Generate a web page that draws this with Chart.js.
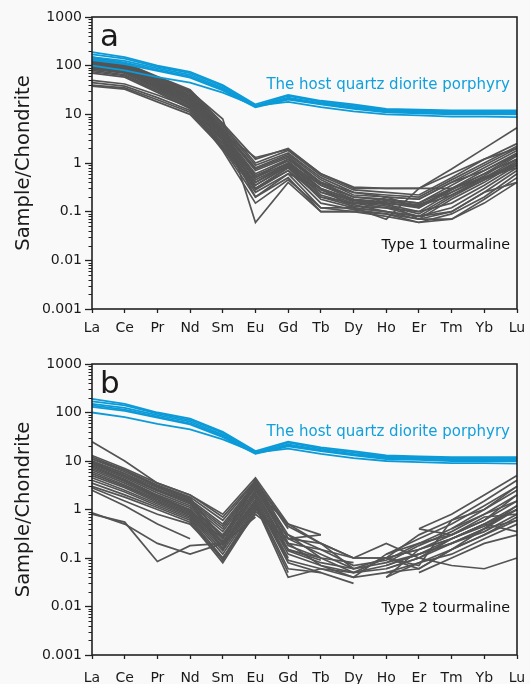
<!DOCTYPE html>
<html>
<head>
<meta charset="utf-8">
<script src="https://cdn.jsdelivr.net/npm/chart.js@4"></script>
<style>
  html, body { margin: 0; padding: 0; background: #f9f9f9; }
  #wrap { position: relative; width: 530px; height: 684px; }
  canvas { position: absolute; left: 0; }
  #ca { top: 0; }
  #cb { top: 342px; }
</style>
</head>
<body>
<div id="wrap">
  <canvas id="ca" width="530" height="342" style="width:530px;height:342px"></canvas>
  <canvas id="cb" width="530" height="342" style="width:530px;height:342px"></canvas>
</div>
<script>
// REE pattern data, chondrite normalised
const elements = ['La', 'Ce', 'Pr', 'Nd', 'Sm', 'Eu', 'Gd', 'Tb', 'Dy', 'Ho', 'Er', 'Tm', 'Yb', 'Lu'];
const yTicks = [0.001, 0.01, 0.1, 1, 10, 100, 1000];
const hostLabel = 'The host quartz diorite porphyry';

const hostSeries = [
  [190, 150, 100, 75, 40, 16, 25, 19, 16, 13, 12.5, 12, 12, 12],
  [170, 140, 95, 70, 38, 15, 24, 18, 15, 12.5, 12, 11.5, 11.5, 11.5],
  [150, 125, 88, 65, 35, 14.5, 22, 17, 14, 12, 11.5, 11, 11, 11],
  [140, 115, 82, 60, 33, 14.5, 21, 16.5, 13.5, 11.5, 11, 10.5, 10.5, 10.5],
  [130, 108, 78, 57, 31, 14, 20, 16, 13, 11, 10.5, 10, 10, 10],
  [100, 80, 58, 45, 28, 15, 18, 14, 11.5, 10, 9.5, 9, 9, 8.8]
];

const type1Series = [
  [150, 115, 60, 32, 6.5, 1.2, 2.0, 0.6, 0.3, 0.3, 0.3, 0.75, 2.0, 5.3],
  [140, 110, 58, 30, 6.0, 1.0, 1.8, 0.55, 0.28, 0.25, 0.22, 0.5, 1.2, 2.5],
  [135, 105, 55, 28, 5.5, 0.9, 1.6, 0.5, 0.25, 0.22, 0.2, 0.45, 1.0, 2.2],
  [130, 100, 52, 27, 5.0, 0.8, 1.5, 0.45, 0.22, 0.2, 0.18, 0.4, 0.9, 2.0],
  [125, 95, 50, 25, 4.8, 0.75, 1.4, 0.4, 0.2, 0.18, 0.15, 0.35, 0.8, 1.8],
  [120, 92, 48, 24, 4.5, 0.7, 1.3, 0.38, 0.2, 0.17, 0.13, 0.3, 0.7, 1.6],
  [115, 90, 46, 23, 4.2, 0.6, 1.2, 0.35, 0.18, 0.15, 0.12, 0.28, 0.6, 1.5],
  [110, 88, 44, 22, 4.0, 0.55, 1.1, 0.3, 0.17, 0.14, 0.1, 0.25, 0.55, 1.4],
  [105, 85, 42, 21, 3.8, 0.5, 1.0, 0.28, 0.16, 0.13, 0.09, 0.22, 0.5, 1.2],
  [100, 82, 40, 20, 3.5, 0.45, 0.95, 0.25, 0.15, 0.12, 0.08, 0.2, 0.45, 1.1],
  [95, 80, 38, 19, 3.2, 0.4, 0.9, 0.22, 0.14, 0.1, 0.07, 0.18, 0.4, 1.0],
  [90, 75, 36, 18, 3.0, 0.35, 0.85, 0.2, 0.13, 0.12, 0.1, 0.15, 0.35, 0.9],
  [88, 72, 35, 17, 2.8, 0.3, 0.8, 0.18, 0.12, 0.1, 0.08, 0.12, 0.3, 0.8],
  [85, 70, 34, 16, 2.5, 0.28, 0.7, 0.15, 0.11, 0.09, 0.07, 0.1, 0.25, 0.7],
  [80, 65, 32, 15, 2.2, 0.25, 0.6, 0.12, 0.1, 0.08, 0.06, 0.09, 0.2, 0.6],
  [75, 62, 30, 14, 2.0, 0.2, 0.5, 0.1, 0.1, 0.09, 0.06, 0.07, 0.18, 0.5],
  [70, 58, 28, 13, 1.8, 0.15, 0.45, 0.12, 0.12, 0.1, 0.08, 0.1, 0.25, 0.4],
  [120, 95, 55, 30, 8.0, 0.06, 0.4, 0.1, 0.1, 0.2, 0.12, 0.3, 0.5, 0.9],
  [50, 42, 25, 14, 3.0, 0.5, 1.2, 0.4, 0.25, 0.2, 0.18, 0.4, 0.7, 1.5],
  [45, 38, 22, 12, 2.5, 0.4, 1.0, 0.35, 0.2, 0.18, 0.15, 0.3, 0.6, 1.2],
  [40, 35, 20, 11, 2.2, 0.35, 0.9, 0.3, 0.18, 0.16, 0.14, 0.25, 0.5, 1.0],
  [38, 33, 18, 10, 2.0, 0.3, 0.8, 0.25, 0.17, 0.15, 0.13, 0.22, 0.45, 0.9],
  [100, 80, 45, 22, 4.0, 1.3, 1.9, 0.6, 0.32, 0.3, 0.3, 0.3, 0.5, 0.8],
  [130, 100, 50, 25, 5.0, 0.3, 0.7, 0.2, 0.15, 0.15, 0.07, 0.07, 0.15, 0.4],
  [95, 78, 40, 20, 3.5, 0.2, 0.6, 0.3, 0.12, 0.07, 0.3, 0.6, 1.2, 2.0]
];

const type2Series = [
  [25, 10, 3.5, 2.0, 0.8, 4.5, 0.5, 0.3, null, null, 0.4, 0.8, 2.0, 5.0],
  [13, 7, 3.5, 2.0, 0.7, 4.0, 0.45, 0.2, 0.1, 0.1, 0.3, 0.6, 1.5, 4.0],
  [12, 6.5, 3.2, 1.8, 0.6, 3.8, 0.4, null, null, 0.12, 0.25, 0.5, 1.2, 3.0],
  [11, 6, 3, 1.6, 0.5, 3.5, 0.3, 0.15, 0.07, 0.09, 0.2, 0.4, 1.0, 2.5],
  [10, 5.5, 2.8, 1.5, 0.45, 3.2, 0.25, 0.12, 0.06, 0.08, 0.18, 0.35, 0.8, 2.0],
  [9.5, 5, 2.6, 1.4, 0.4, 3.0, 0.2, null, null, 0.1, 0.15, 0.3, 0.6, 1.5],
  [9, 4.8, 2.4, 1.3, 0.35, 2.8, 0.18, 0.1, 0.05, 0.07, 0.12, 0.25, 0.5, 1.2],
  [8.5, 4.5, 2.2, 1.2, 0.3, 2.5, 0.15, 0.09, null, 0.06, 0.1, 0.2, 0.4, 1.0],
  [8, 4.2, 2, 1.1, 0.28, 2.2, 0.14, 0.08, 0.06, null, 0.4, 0.3, 0.7, 0.8],
  [7.5, 4, 1.9, 1.0, 0.25, 2.0, 0.12, 0.07, 0.05, 0.1, 0.06, 0.15, 0.3, 0.6],
  [7, 3.8, 1.8, 0.95, 0.22, 1.8, 0.1, null, null, 0.05, 0.08, 0.12, 0.25, 0.5],
  [6.5, 3.5, 1.7, 0.9, 0.2, 1.6, 0.09, 0.06, 0.04, 0.12, 0.2, 0.3, 0.6, 2.0],
  [6, 3.2, 1.6, 0.85, 0.18, 1.5, 0.08, 0.05, null, 0.04, 0.15, 0.25, 0.5, 1.0],
  [5.5, 3, 1.5, 0.8, 0.16, 1.4, 0.06, 0.05, 0.03, null, null, 0.4, 0.8, 1.5],
  [5, 2.8, 1.4, 0.75, 0.14, 1.3, 0.05, null, null, 0.08, 0.12, 0.2, 0.35, 0.8],
  [4.5, 2.5, 1.3, 0.7, 0.12, 1.2, 0.04, 0.06, 0.05, 0.06, 0.1, 0.07, 0.06, 0.1],
  [4, 2.3, 1.2, 0.65, 0.1, 1.1, 0.15, 0.1, 0.08, null, 0.05, 0.1, 0.2, 0.3],
  [3.5, 2, 1.1, 0.6, 0.09, 1.0, 0.2, 0.07, 0.04, 0.05, 0.06, 0.15, 0.3, 0.7],
  [3, 1.8, 1.0, 0.55, 0.08, 0.9, 0.3, 0.1, null, 0.07, 0.12, 0.2, 0.4, 0.6],
  [2.8, 1.5, 0.8, 0.5, 0.1, 0.8, 0.25, 0.2, 0.1, 0.1, 0.15, 0.25, 0.45, 1.0],
  [11, 6.5, 3, 1.7, 0.25, 4.2, 0.25, 0.3, null, null, null, null, null, null],
  [9, 5, 2.5, 1.5, 0.2, 3.5, 0.2, 0.15, 0.1, null, null, null, null, null],
  [2.5, 1.2, 0.5, 0.25, null, null, null, null, null, null, null, null, null, null],
  [0.85, 0.5, 0.2, 0.12, 0.2, 0.7, null, null, null, null, null, null, null, null],
  [0.8, 0.55, 0.085, 0.18, 0.2, null, null, null, null, null, null, null, null, null],
  [null, null, null, null, null, null, null, null, null, 0.04, 0.08, 0.15, 0.4, 1.2],
  [null, null, null, null, null, null, null, null, 0.1, 0.2, 0.1, 0.25, 0.5, 0.35],
  [10, 5.5, 2.5, 1.4, 0.15, 2.5, 0.5, 0.2, 0.06, 0.1, 0.07, 0.6, 1.0, 3.0]
];

const FONT = "'DejaVu Sans', sans-serif";
const BLUE = '#0c9bd8';
const GRAY = '#545454';

function makePanel(id, letter, typeLabel, graySeries, pad, xHeight, xPad, typeOffset) {
  const datasets = [];
  hostSeries.forEach(s => datasets.push({
    data: s, borderColor: BLUE, borderWidth: 1.8, pointRadius: 0
  }));
  graySeries.forEach(s => datasets.push({
    data: s, borderColor: GRAY, borderWidth: 1.7, pointRadius: 0
  }));

  const decor = {
    id: 'decor',
    afterDraw(chart) {
      const { ctx, chartArea: a, scales: { y } } = chart;
      ctx.save();
      // minor ticks on the log axis
      ctx.strokeStyle = '#222';
      ctx.lineWidth = 1;
      for (let e = -3; e < 3; e++) {
        for (let m = 2; m <= 9; m++) {
          const py = Math.round(y.getPixelForValue(m * Math.pow(10, e))) + 0.5;
          ctx.beginPath();
          ctx.moveTo(a.left - 3.5, py);
          ctx.lineTo(a.left, py);
          ctx.stroke();
        }
      }
      // frame
      ctx.lineWidth = 1.6;
      ctx.strokeStyle = '#222';
      ctx.strokeRect(a.left, a.top, a.right - a.left, a.bottom - a.top);
      // y title
      ctx.fillStyle = '#1a1a1a';
      ctx.font = '19.5px ' + FONT;
      ctx.textAlign = 'center';
      ctx.textBaseline = 'middle';
      ctx.translate(24, (a.top + a.bottom) / 2);
      ctx.rotate(-Math.PI / 2);
      ctx.fillText('Sample/Chondrite', 0, 0);
      ctx.setTransform(1, 0, 0, 1, 0, 0);
      // panel letter
      ctx.textAlign = 'left';
      ctx.textBaseline = 'alphabetic';
      ctx.font = '31px ' + FONT;
      ctx.fillText(letter, a.left + 8, a.top + 29);
      // annotations
      ctx.textAlign = 'right';
      ctx.font = '15px ' + FONT;
      ctx.fillStyle = '#12a0dc';
      ctx.fillText(hostLabel, a.right - 7, a.top + 72);
      ctx.fillStyle = '#111';
      ctx.font = '14.3px ' + FONT;
      ctx.fillText(typeLabel, a.right - 7, a.top + typeOffset);
      ctx.restore();
    }
  };

  return new Chart(document.getElementById(id), {
    type: 'line',
    data: { labels: elements, datasets: datasets },
    options: {
      responsive: false,
      animation: false,
      layout: { padding: { top: pad, right: 13, left: 0, bottom: 0 } },
      plugins: { legend: { display: false }, tooltip: { enabled: false } },
      scales: {
        x: {
          type: 'category',
          offset: false,
          border: { display: false },
          grid: { drawOnChartArea: false, drawTicks: true, tickLength: 4, tickColor: '#222', tickWidth: 1.3 },
          ticks: { color: '#1a1a1a', font: { family: FONT, size: 14 }, padding: xPad, autoSkip: false, maxRotation: 0 },
          afterFit(scale) {
            scale.height = xHeight;
            scale.paddingLeft = 0;
            scale.paddingRight = 0;
          }
        },
        y: {
          type: 'logarithmic',
          min: 0.001,
          max: 1000,
          border: { display: false },
          grid: { drawOnChartArea: false, drawTicks: true, tickLength: 7, tickColor: '#222', tickWidth: 1.3 },
          ticks: {
            color: '#1a1a1a',
            font: { family: FONT, size: 14 },
            padding: 3,
            autoSkip: false,
            callback: v => String(v)
          },
          afterBuildTicks(scale) { scale.ticks = yTicks.map(v => ({ value: v })); },
          afterFit(scale) { scale.width = 92; }
        }
      }
    },
    plugins: [decor]
  });
}

makePanel('ca', 'a', 'Type 1 tourmaline', type1Series, 17, 33, 7, 232);
makePanel('cb', 'b', 'Type 2 tourmaline', type2Series, 22, 29, 11, 248);
</script>
</body>
</html>
